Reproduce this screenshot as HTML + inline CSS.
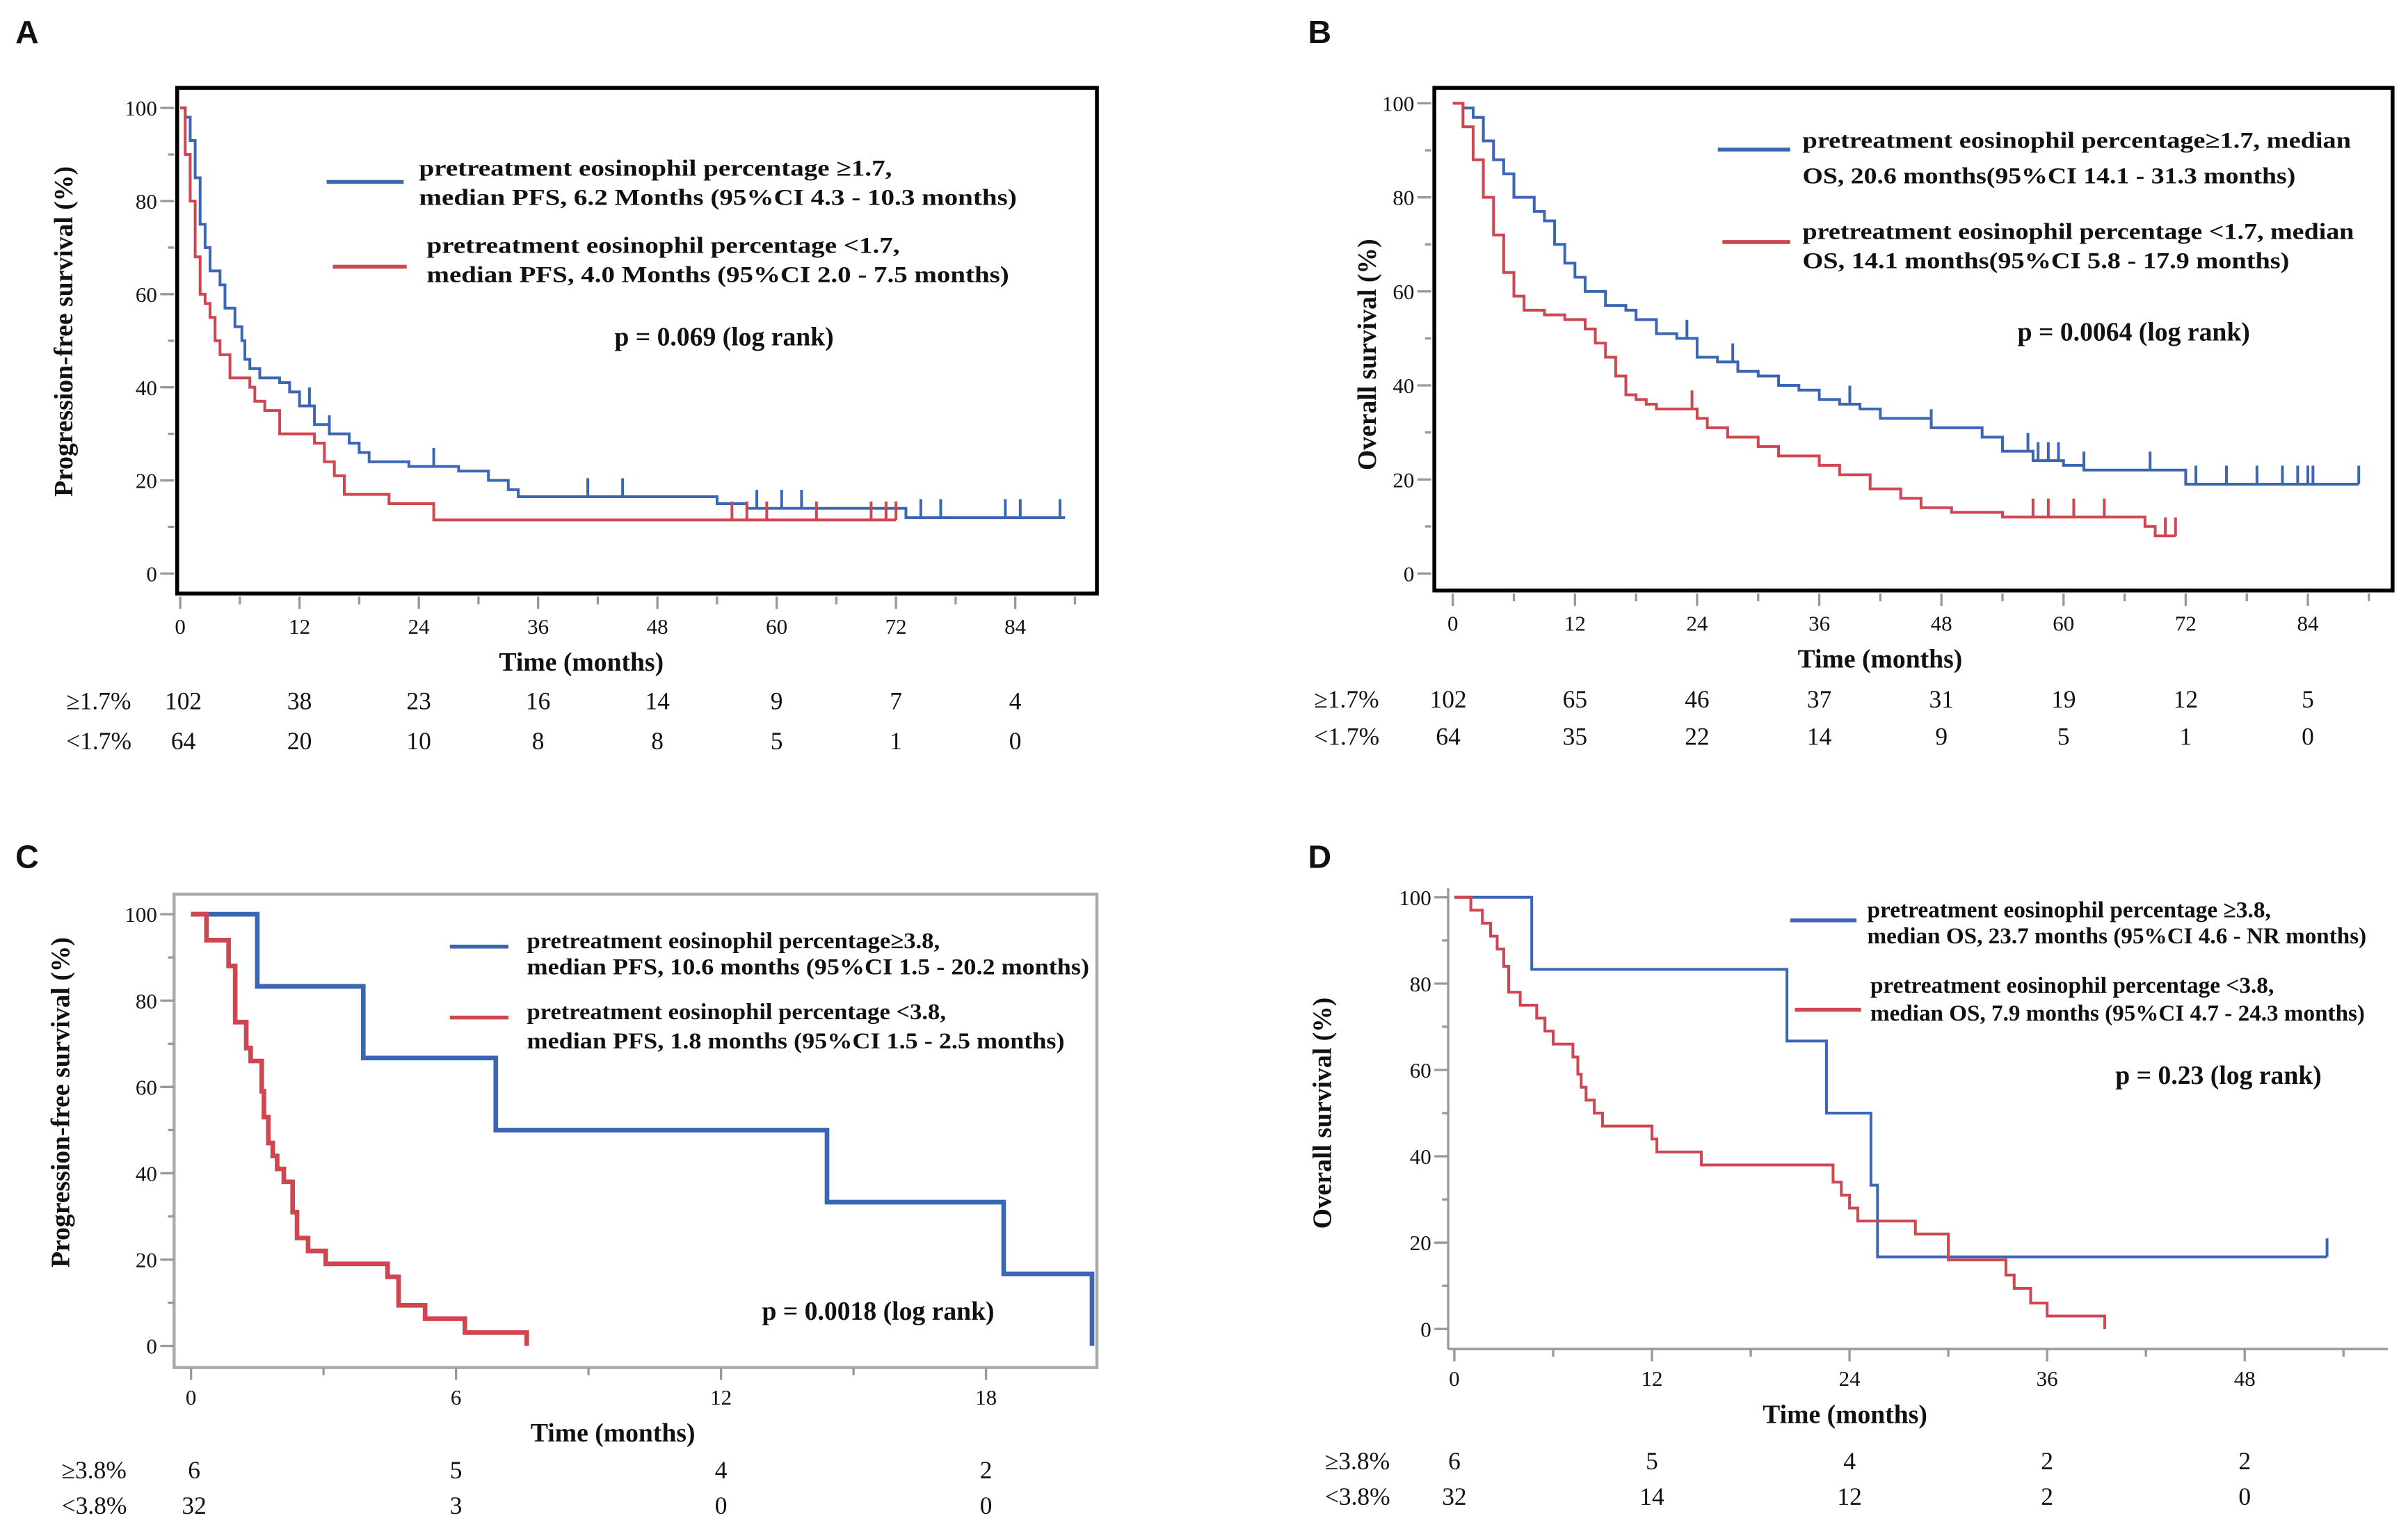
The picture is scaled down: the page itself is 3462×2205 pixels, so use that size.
<!DOCTYPE html>
<html><head><meta charset="utf-8">
<style>
html,body{margin:0;padding:0;background:#fff;}
svg{display:block;}
text{font-family:"Liberation Serif",serif;fill:#111;}
.lg{font-weight:bold;font-size:15px;}
.pv{font-weight:bold;font-size:17px;}
.tk{font-size:14px;}
.ttl{font-weight:bold;font-size:17px;}
.rk{font-size:16px;}
.let{font-family:"Liberation Sans",sans-serif;font-weight:bold;font-size:21px;}
</style></head>
<body>
<svg id="fig" width="3462" height="2205" viewBox="0 0 1563 995" preserveAspectRatio="none" xmlns="http://www.w3.org/2000/svg">
<rect x="0" y="0" width="1563" height="995" fill="#fff"/>
<text class="let" x="10" y="28">A</text>
<text class="let" x="849" y="28">B</text>
<text class="let" x="10" y="563">C</text>
<text class="let" x="849" y="563">D</text>
</svg>
<script>
// ---------- data ----------
const aBlueTimes=[0,0.5,1,1.5,2,2.5,3,4,4.5,5.5,6.2,6.5,7,8,10,11,12,13.5,15,17,18,19,23,28,31,33,34,54,57,73,89];
const aBlueSurv=[100,98,93,85,75,70,65,62,57,53,50,46,44,42,41,39,36,32,30,28,26,24,23,22,20,18,16.5,15,14,12,12];
const aBlueCens=[13,15,25.5,41,44.5,58,60.5,62.5,74.5,76.5,83,84.5,88.5];
const aRedTimes=[0,0.5,1,1.5,2,2.5,3,3.5,4,5,7,7.5,8.5,10,13.5,14.5,15.5,16.5,21,25.5,72];
const aRedSurv=[100,90,80,68,60,58,55,50,47,42,40,37,35,30,28,24,21,17,15,11.5,11.5];
const aRedCens=[55.5,57,59,64,69.5,71,72];
const aRiskHigh=["102","38","23","16","14","9","7","4"];
const aRiskLow=["64","20","10","8","8","5","1","0"];

const bBlueTimes=[0,1,2,3,4,5,6,8,9,10,11,12,13,15,17,18,20,22,24,26,28,30,32,34,36,38,40,42,47,52,54,57,60,62,72,89];
const bBlueSurv=[100,99,97,92,88,85,80,77,75,70,66,63,60,57,56,54,51,50,46,45,43,42,40,39,37,36,35,33,31,29,26,24,23,22,19,19];
const bBlueCens=[6,23,27.5,39,47,56.5,57.5,58.5,59.5,62,68.5,73,76,79,81.5,83,84,84.5,89];
const bRedTimes=[0,1,2,3,4,5,6,7,9,11,13,14,15,16,17,18,19,20,24,25,27,30,32,36,38,41,44,46,49,54,68,69,71];
const bRedSurv=[100,95,88,80,72,64,59,56,55,54,52,49,46,42,38,37,36,35,33,31,29,27,25,23,21,18,16,14,13,12,10,8,8];
const bRedCens=[23.5,57,58.5,61,64,70,71];
const bRiskHigh=["102","65","46","37","31","19","12","5"];
const bRiskLow=["64","35","22","14","9","5","1","0"];

const cBlueTimes=[0,1.5,3.9,6.9,14.4,18.4,20.4];
const cBlueSurv=[100,83.3,66.7,50,33.3,16.7,0];
const cRedTimes=[0,0.35,0.85,1.0,1.25,1.35,1.6,1.65,1.75,1.85,1.95,2.1,2.3,2.4,2.65,3.05,4.45,4.7,5.3,6.2,7.6];
const cRedSurv=[100,94,88,75,69,66,59,53,47,44,41,38,31,25,22,19,16,9.4,6.3,3.1,0];
const cRiskHigh=["6","5","4","2"];
const cRiskLow=["32","3","0","0"];

const dBlueTimes=[0,4.7,20.2,22.6,25.3,25.7,53];
const dBlueSurv=[100,83.3,66.7,50,33.3,16.7,16.7];
const dBlueCens=[53];
const dRedTimes=[0,1,1.7,2.2,2.6,3.0,3.3,4,5,5.5,6,7.2,7.5,7.7,8,8.5,9,12,12.3,15,23,23.5,24,24.5,28,30,33.5,34,35,36,39.5];
const dRedSurv=[100,97,94,91,88,84,78,75,72,69,66,63,59,56,53,50,47,44,41,38,34,31,28,25,22,16,12.5,9.4,6,3,0];
const dRiskHigh=["6","5","4","2","2"];
const dRiskLow=["32","14","12","2","0"];

const yTicks=[0,20,40,60,80,100];
// ---------- drawing ----------
const NS="http://www.w3.org/2000/svg";
const fig=document.getElementById('fig');
function mk(tag,attrs,parent){const e=document.createElementNS(NS,tag);for(const k in attrs)e.setAttribute(k,attrs[k]);(parent||fig).appendChild(e);return e;}
function txt(parent,x,y,s,cls,anchor){const t=mk('text',{x:x,y:y,class:cls,'text-anchor':anchor||'middle'},parent);t.textContent=s;return t;}
function stepAt(times,surv,t){let v=surv[0];for(let i=0;i<times.length;i++){if(times[i]<=t)v=surv[i];}return v;}

function panel(p){
  const g=mk('g',{});
  
  
  const X=t=>p.x0+(t-0)*p.px;
  const Y=s=>p.y0-s*(p.y0-p.y100)/100;
  if(p.frame){const f=mk('rect',{x:p.fx,y:p.fy,width:p.fw,height:p.fh,fill:'none',stroke:p.frame,'stroke-width':p.fsw},g);
    }
  else{
    const ya=mk('line',{x1:p.axX,y1:Y(100)-6,x2:p.axX,y2:p.axY,stroke:'#999','stroke-width':1.5},g);
    
    const xa=mk('line',{x1:p.axX,y1:p.axY,x2:p.axEnd,y2:p.axY,stroke:'#999','stroke-width':1.5},g);
    
  }
  for(let v=0;v<=100;v+=10){
    const major=v%20===0;
    mk('line',{x1:p.axX-(major?9:4),y1:Y(v),x2:p.axX,y2:Y(v),stroke:'#999','stroke-width':1.5},g);
  }
  yTicks.forEach(v=>{const t=txt(g,p.axX-11,Y(v)+5,String(v),'tk','end');
    });
  for(let m=0;m<=p.xmax;m+=p.minor){
    const major=(m%p.major)===0;
    mk('line',{x1:X(m),y1:p.axY,x2:X(m),y2:p.axY+(major?8:5),stroke:'#999','stroke-width':1.5},g);
    if(major){const t=txt(g,X(m),p.axY+24,String(m),'tk');
      }
  }
  const xt=txt(g,(X(0)+X(p.xmax))/2+p.titleDx,p.axY+48,'Time (months)','ttl');
  
  const yt=mk('text',{x:0,y:0,class:'ttl','text-anchor':'middle',transform:`translate(${p.ylx},${p.yly}) rotate(-90)`},g);
  yt.textContent=p.ylabel;
  
  p.series.forEach(s=>{
    let d=`M${X(s.t[0])},${Y(s.s[0])}`;
    for(let i=1;i<s.t.length;i++){d+=` H${X(s.t[i])} V${Y(s.s[i])}`;}
    const path=mk('path',{d:d,fill:'none',stroke:s.color,'stroke-width':p.lw},g);
    
    
    (s.c||[]).forEach(ct=>{
      const v=stepAt(s.t,s.s,ct);
      const cm=mk('line',{x1:X(ct),y1:Y(v),x2:X(ct),y2:Y(v)-12,stroke:s.color,'stroke-width':p.lw},g);
      
      
    });
  });
  p.legend.forEach(l=>{
    const ln=mk('line',{x1:l.x1,y1:l.ly,x2:l.x2,y2:l.ly,stroke:l.color,'stroke-width':2.5},g);
    
    l.lines.forEach((s,i)=>{const t=mk('text',{x:l.tx,y:l.ty[i],class:'lg',textLength:l.w[i],lengthAdjust:'spacingAndGlyphs'},g);
      t.textContent=s;});
  });
  const pv=txt(g,p.px0,p.py0,p.ptext,'pv');
  
  txt(g,p.rlx,p.r1,p.rlab[0],'rk','start');
  txt(g,p.rlx,p.r2,p.rlab[1],'rk','start');
  p.risk1.forEach((v,i)=>{const t=txt(g,X(i*p.major)+(i===0?p.r0dx:0),p.r1,v,'rk');});
  p.risk2.forEach((v,i)=>{const t=txt(g,X(i*p.major)+(i===0?p.r0dx:0),p.r2,v,'rk');});
}
const BL='#3a66b5',RD='#cf4550';
panel({name:'panel-a-pfs',x0:117,px:(659-117)/84,y0:372,y100:70,frame:'#000',fx:115,fy:57,fw:597,fh:328,fsw:2.5,axX:113,axY:387,xmax:90,major:12,minor:6,titleDx:-30,
  ylx:47,yly:215,ylabel:'Progression-free survival  (%)',lw:1.8,
  series:[{name:'curve-high-eos',color:BL,t:aBlueTimes,s:aBlueSurv,c:aBlueCens},{name:'curve-low-eos',color:RD,t:aRedTimes,s:aRedSurv,c:aRedCens}],
  legend:[{color:BL,x1:212,x2:262,ly:118,tx:272,lines:['pretreatment eosinophil percentage ≥1.7,','median PFS, 6.2 Months (95%CI 4.3 - 10.3 months)'],w:[307,388],ty:[114,133]},
          {color:RD,x1:216,x2:264,ly:173,tx:277,ty:[164,183],lines:['pretreatment eosinophil percentage <1.7,','median PFS, 4.0 Months (95%CI 2.0 - 7.5 months)'],w:[307,378]}],
  px0:470,py0:224,ptext:'p = 0.069 (log rank)',rlx:43,r1:460,r2:486,rlab:['≥1.7%','<1.7%'],risk1:aRiskHigh,risk2:aRiskLow,r0dx:2});
panel({name:'panel-b-os',x0:943,px:(1498-943)/84,y0:372,y100:67,frame:'#000',fx:931,fy:57,fw:622,fh:326,fsw:2.5,axX:929,axY:385,xmax:90,major:12,minor:6,titleDx:-20,
  ylx:893,yly:230,ylabel:'Overall survival   (%)',lw:1.8,
  series:[{name:'curve-high-eos',color:BL,t:bBlueTimes,s:bBlueSurv,c:bBlueCens},{name:'curve-low-eos',color:RD,t:bRedTimes,s:bRedSurv,c:bRedCens}],
  legend:[{color:BL,x1:1115,x2:1162,ly:97,tx:1170,ty:[96,119],lines:['pretreatment eosinophil percentage≥1.7,  median','OS, 20.6 months(95%CI 14.1 - 31.3 months)'],w:[356,320]},
          {color:RD,x1:1118,x2:1162,ly:157,tx:1170,ty:[155,174],lines:['pretreatment eosinophil percentage <1.7,  median','OS, 14.1 months(95%CI 5.8 - 17.9 months)'],w:[358,316]}],
  px0:1385,py0:221,ptext:'p = 0.0064 (log rank)',rlx:853,r1:459,r2:483,rlab:['≥1.7%','<1.7%'],risk1:bRiskHigh,risk2:bRiskLow,r0dx:-3});
panel({name:'panel-c-pfs',x0:124,px:(640-124)/18,y0:873,y100:593,frame:'#aaa',fx:113,fy:580,fw:599,fh:307,fsw:2,axX:113,axY:887,xmax:20.5,major:6,minor:3,titleDx:-20,
  ylx:45,yly:715,ylabel:'Progression-free survival  (%)',lw:3,
  series:[{name:'curve-high-eos',color:BL,t:cBlueTimes,s:cBlueSurv,c:[]},{name:'curve-low-eos',color:RD,t:cRedTimes,s:cRedSurv,c:[]}],
  legend:[{color:BL,x1:292,x2:330,ly:614,tx:342,ty:[615,632],lines:['pretreatment eosinophil percentage≥3.8,','median PFS, 10.6 months (95%CI 1.5 - 20.2 months)'],w:[268,365]},
          {color:RD,x1:292,x2:330,ly:660,tx:342,ty:[661,680],lines:['pretreatment eosinophil percentage <3.8,','median PFS, 1.8 months (95%CI 1.5 - 2.5 months)'],w:[272,349]}],
  px0:570,py0:856,ptext:'p = 0.0018 (log rank)',rlx:40,r1:959,r2:982,rlab:['≥3.8%','<3.8%'],risk1:cRiskHigh,risk2:cRiskLow,r0dx:2});
panel({name:'panel-d-os',x0:944,px:(1457-944)/48,y0:862,y100:582,frame:null,axX:940,axY:875,axEnd:1550,xmax:54,major:12,minor:6,titleDx:-35,
  ylx:864,yly:722,ylabel:'Overall survival   (%)',lw:1.8,
  series:[{name:'curve-high-eos',color:BL,t:dBlueTimes,s:dBlueSurv,c:dBlueCens},{name:'curve-low-eos',color:RD,t:dRedTimes,s:dRedSurv,c:[]}],
  legend:[{color:BL,x1:1162,x2:1205,ly:597,tx:1212,ty:[595,612],lines:['pretreatment eosinophil percentage ≥3.8,','median OS, 23.7 months (95%CI 4.6 - NR months)'],w:[262,324]},
          {color:RD,x1:1165,x2:1208,ly:655,tx:1214,ty:[644,662],lines:['pretreatment eosinophil percentage <3.8,','median OS, 7.9 months (95%CI 4.7 - 24.3 months)'],w:[262,321]}],
  px0:1440,py0:703,ptext:'p = 0.23 (log rank)',rlx:860,r1:953,r2:976,rlab:['≥3.8%','<3.8%'],risk1:dRiskHigh,risk2:dRiskLow,r0dx:0});
</script>
</body></html>
